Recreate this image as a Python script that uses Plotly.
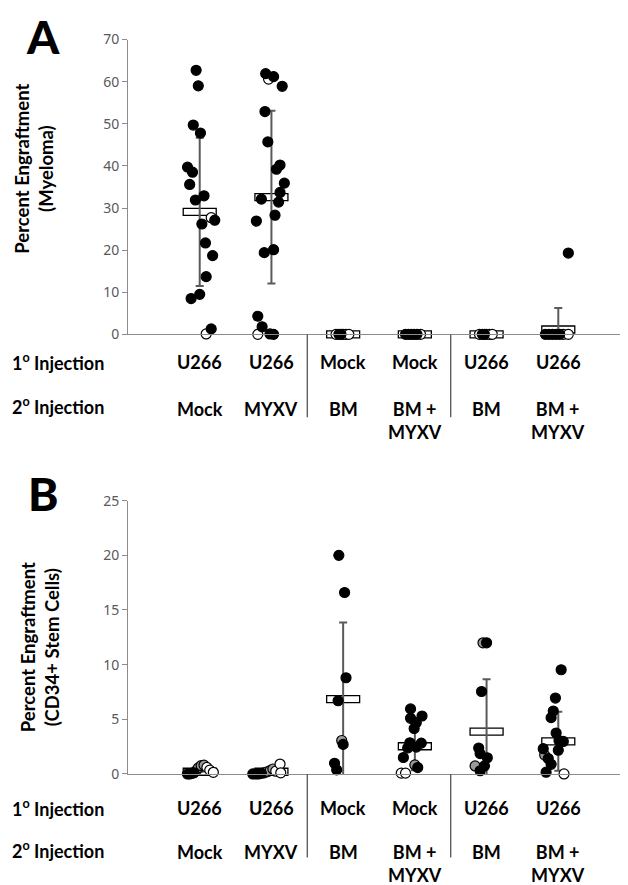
import plotly.graph_objects as go

W, H = 628, 885

# ---------------- data ----------------
primary_injection = ["U266", "U266", "Mock", "Mock", "U266", "U266"]
secondary_injection = ["Mock", "MYXV", "BM", "BM +<br>MYXV", "BM", "BM +<br>MYXV"]
row_titles = ["1<sup>o</sup> Injection", "2<sup>o</sup> Injection"]
group_positions = [1, 2, 3, 4, 5, 6]

a_ticks = [0, 10, 20, 30, 40, 50, 60, 70]
b_ticks = [0, 5, 10, 15, 20, 25]

# Panel A (Myeloma) — filled symbols
a_filled = [
    [62.7, 59.0, 49.7, 47.8, 39.7, 38.5, 35.6, 32.9, 31.9, 27.1, 26.2, 21.7, 18.7, 13.7, 9.5, 8.5, 1.3],
    [61.9, 61.2, 58.9, 52.9, 45.7, 40.2, 39.2, 35.9, 33.7, 32.1, 31.4, 28.3, 26.9, 20.1, 19.4, 4.3, 1.8, 0.1, 0.0],
    [0, 0],
    [0, 0, 0, 0, 0],
    [0, 0],
    [0, 0, 0, 0, 0, 19.3],
]
a_filled_jitter = [
    [-0.05, -0.02, -0.09, 0.01, -0.17, -0.10, -0.14, 0.06, -0.06, 0.21, 0.03, 0.08, 0.18, 0.09, 0.0, -0.12, 0.16],
    [-0.08, 0.03, 0.15, -0.09, -0.05, 0.12, 0.07, 0.18, 0.12, -0.14, 0.10, 0.05, -0.21, 0.03, -0.10, -0.19, -0.13, -0.02, 0.03],
    [-0.06, -0.03],
    [-0.13, -0.09, -0.05, -0.01, 0.03],
    [-0.06, -0.03],
    [-0.18, -0.13, -0.08, -0.03, 0.02, 0.14],
]
# Panel A — open symbols
a_open = [
    [27.7, 0.1],
    [60.6, 0.0],
    [0, 0, 0, 0],
    [0],
    [0, 0, 0, 0],
    [0, 0],
]
a_open_jitter = [
    [0.16, 0.09],
    [-0.04, -0.19],
    [-0.10, 0.0, 0.04, 0.08],
    [0.08],
    [-0.10, 0.0, 0.04, 0.08],
    [0.07, 0.14],
]
a_means = [29.1, 32.6, 0, 0, 0, 1.15]
a_sds = [17.6, 20.5, 0, 0, 0, 5.1]

# Panel B (CD34+ stem cells)
b_filled = [
    [0, 0, 0.05, 0.1],
    [0, 0, 0, 0.05],
    [20.0, 16.6, 8.8, 6.7, 2.7, 0.97, 0.37],
    [5.95, 5.09, 5.3, 4.7, 4.16, 2.85, 2.82, 2.37, 2.46, 1.5, 0.58],
    [12.0, 7.54, 2.37, 1.86, 1.48, 0.73, 0.29],
    [9.53, 6.94, 5.75, 5.15, 3.74, 2.97, 3.06, 2.17, 2.31, 1.41, 0.88, 0.16],
]
b_filled_jitter = [
    [-0.17, -0.14, -0.11, -0.08],
    [-0.26, -0.22, -0.18, -0.14],
    [-0.06, 0.02, 0.04, -0.07, 0.0, -0.12, -0.09],
    [-0.06, -0.06, 0.10, 0.02, -0.01, -0.07, 0.09, -0.10, 0.02, -0.16, 0.04],
    [0.0, -0.07, -0.11, -0.09, 0.01, -0.03, -0.09],
    [0.04, -0.04, -0.07, -0.10, -0.03, 0.07, 0.01, 0.0, -0.21, -0.14, -0.10, -0.17],
]
b_grey = [
    [0.3, 0.55, 0.75, 0.8],
    [0.1, 0.2, 0.3, 0.45],
    [3.06],
    [0.82],
    [12.0, 0.73],
    [1.72],
]
b_grey_jitter = [
    [-0.05, -0.02, 0.02, 0.06],
    [-0.10, -0.06, -0.02, 0.02],
    [-0.02],
    [0.0],
    [-0.05, -0.16],
    [-0.19],
]
b_open = [
    [0.6, 0.35, 0.15],
    [0.25, 0.9, 0.1],
    [],
    [0.07, 0.07],
    [],
    [0],
]
b_open_jitter = [
    [0.10, 0.14, 0.19],
    [0.06, 0.12, 0.13],
    [],
    [-0.19, -0.13],
    [],
    [0.08],
]
b_means = [0.2, 0.2, 6.85, 2.53, 3.87, 2.98]
b_sds = [0, 0, 7.0, 2.2, 4.8, 2.7]

# ---------------- layout helpers ----------------
def px(x):
    return x / W

def py(y):
    return 1 - y / H

X_DOM = [px(120), px(622)]
A_DOM = [py(323.3), py(22)]
B_DOM = [py(772.5), py(493.3)]

LABEL_FONT = dict(family="Lato, 'Open Sans', sans-serif", size=18, color="black", weight="bold")
AXIS_GREY = "#8c8c8c"


def flatten(groups, jitters):
    xs, ys = [], []
    for pos, vals, jit in zip(group_positions, groups, jitters):
        for v, j in zip(vals, jit):
            xs.append(pos + j)
            ys.append(v)
    return xs, ys


fig = go.Figure()


def add_panel(xa, ya, means, sds, series):
    # error bars (SD) at the group mean
    fig.add_trace(go.Scatter(
        x=group_positions, y=means, mode="markers", xaxis=xa, yaxis=ya,
        marker=dict(size=1, color="rgba(0,0,0,0)"),
        error_y=dict(type="data", array=sds, symmetric=True, color="#5a5a5a",
                     thickness=2, width=4),
        showlegend=False, hoverinfo="skip",
    ))
    for groups, jit, fill in series:
        xs, ys = flatten(groups, jit)
        fig.add_trace(go.Scatter(
            x=xs, y=ys, mode="markers", xaxis=xa, yaxis=ya, cliponaxis=False,
            marker=dict(size=10, color=fill, line=dict(color="black", width=1.2)),
            showlegend=False,
        ))


add_panel("x", "y", a_means, a_sds, [
    (a_open, a_open_jitter, "white"),
    (a_filled, a_filled_jitter, "black"),
])
add_panel("x2", "y2", b_means, b_sds, [
    (b_grey, b_grey_jitter, "#9a9a9a"),
    (b_open, b_open_jitter, "white"),
    (b_filled, b_filled_jitter, "black"),
])

shapes = []
annotations = []


def panel_decor(xref, yref, ymax, means, dom, sep_bottom_px, row1_px, row2_px):
    # mean rectangles
    for pos, m in zip(group_positions, means):
        shapes.append(dict(
            type="rect", xref=xref, yref=yref + " domain", layer="below",
            x0=pos - 0.23, x1=pos + 0.23,
            ysizemode="pixel", yanchor=m / ymax, y0=-3.5, y1=3.5,
            fillcolor="white", line=dict(color="black", width=1.3),
        ))
    # group separators
    for k in (1, 3):
        xm = (group_positions[k] + group_positions[k + 1]) / 2
        shapes.append(dict(
            type="line", xref=xref, yref="paper", x0=xm, x1=xm,
            y0=dom[0], y1=py(sep_bottom_px),
            line=dict(color="#555555", width=1.3),
        ))
    # category labels
    for pos, t1, t2 in zip(group_positions, primary_injection, secondary_injection):
        annotations.append(dict(xref=xref, yref="paper", x=pos, y=py(row1_px),
                                text=t1, showarrow=False, xanchor="center",
                                yanchor="middle", font=LABEL_FONT))
        annotations.append(dict(xref=xref, yref="paper", x=pos, y=py(row2_px),
                                text=t2, showarrow=False, xanchor="center",
                                yanchor="top", font=LABEL_FONT))
    annotations.append(dict(xref="paper", yref="paper", x=px(2), y=py(row1_px),
                            text=row_titles[0], showarrow=False, xanchor="left",
                            yanchor="middle", font=LABEL_FONT))
    annotations.append(dict(xref="paper", yref="paper", x=px(2), y=py(row2_px + 11),
                            text=row_titles[1], showarrow=False, xanchor="left",
                            yanchor="middle", font=LABEL_FONT))


panel_decor("x", "y", a_ticks[-1], a_means, A_DOM, 408, 352, 386)
panel_decor("x2", "y2", b_ticks[-1], b_means, B_DOM, 858, 807, 839)

# panel letters and y titles
TITLE_FONT = dict(family="Lato, 'Open Sans', sans-serif", size=18.5, color="black", weight="bold")
LETTER_FONT = dict(family="Lato, 'Open Sans', sans-serif", size=46, color="black", weight=900)
annotations += [
    dict(xref="paper", yref="paper", x=px(35), y=py(19), text="A", showarrow=False,
         xanchor="center", yanchor="middle", font=LETTER_FONT),
    dict(xref="paper", yref="paper", x=px(35), y=py(486), text="B", showarrow=False,
         xanchor="center", yanchor="middle", font=LETTER_FONT),
    dict(xref="paper", yref="paper", x=px(26), y=py(154),
         text="Percent Engraftment<br>(Myeloma)", showarrow=False, textangle=-90,
         xanchor="center", yanchor="middle", font=TITLE_FONT),
    dict(xref="paper", yref="paper", x=px(32), y=py(643),
         text="Percent Engraftment<br>(CD34+ Stem Cells)", showarrow=False, textangle=-90,
         xanchor="center", yanchor="middle", font=TITLE_FONT),
]

xaxis_common = dict(
    domain=X_DOM, range=[0, 7], showgrid=False, zeroline=False, showline=True,
    linecolor=AXIS_GREY, linewidth=1, ticks="outside", ticklen=5, tickcolor=AXIS_GREY,
    tickvals=[7], showticklabels=False, fixedrange=True,
)
yaxis_common = dict(
    showgrid=False, zeroline=False, showline=True, linecolor=AXIS_GREY, linewidth=1,
    ticks="outside", ticklen=5, tickcolor=AXIS_GREY,
    tickfont=dict(family="'Noto Sans', 'Open Sans', sans-serif", size=14, color="#595959"),
    fixedrange=True,
)

fig.update_layout(
    width=W, height=H, autosize=False,
    margin=dict(l=0, r=0, t=0, b=0),
    paper_bgcolor="white", plot_bgcolor="white",
    showlegend=False,
    xaxis=dict(anchor="y", **xaxis_common),
    yaxis=dict(anchor="x", domain=A_DOM, range=[a_ticks[0], a_ticks[-1]], tickvals=a_ticks, **yaxis_common),
    xaxis2=dict(anchor="y2", **xaxis_common),
    yaxis2=dict(anchor="x2", domain=B_DOM, range=[b_ticks[0], b_ticks[-1]], tickvals=b_ticks, **yaxis_common),
    shapes=shapes,
    annotations=annotations,
)

fig.write_html("out.html")
